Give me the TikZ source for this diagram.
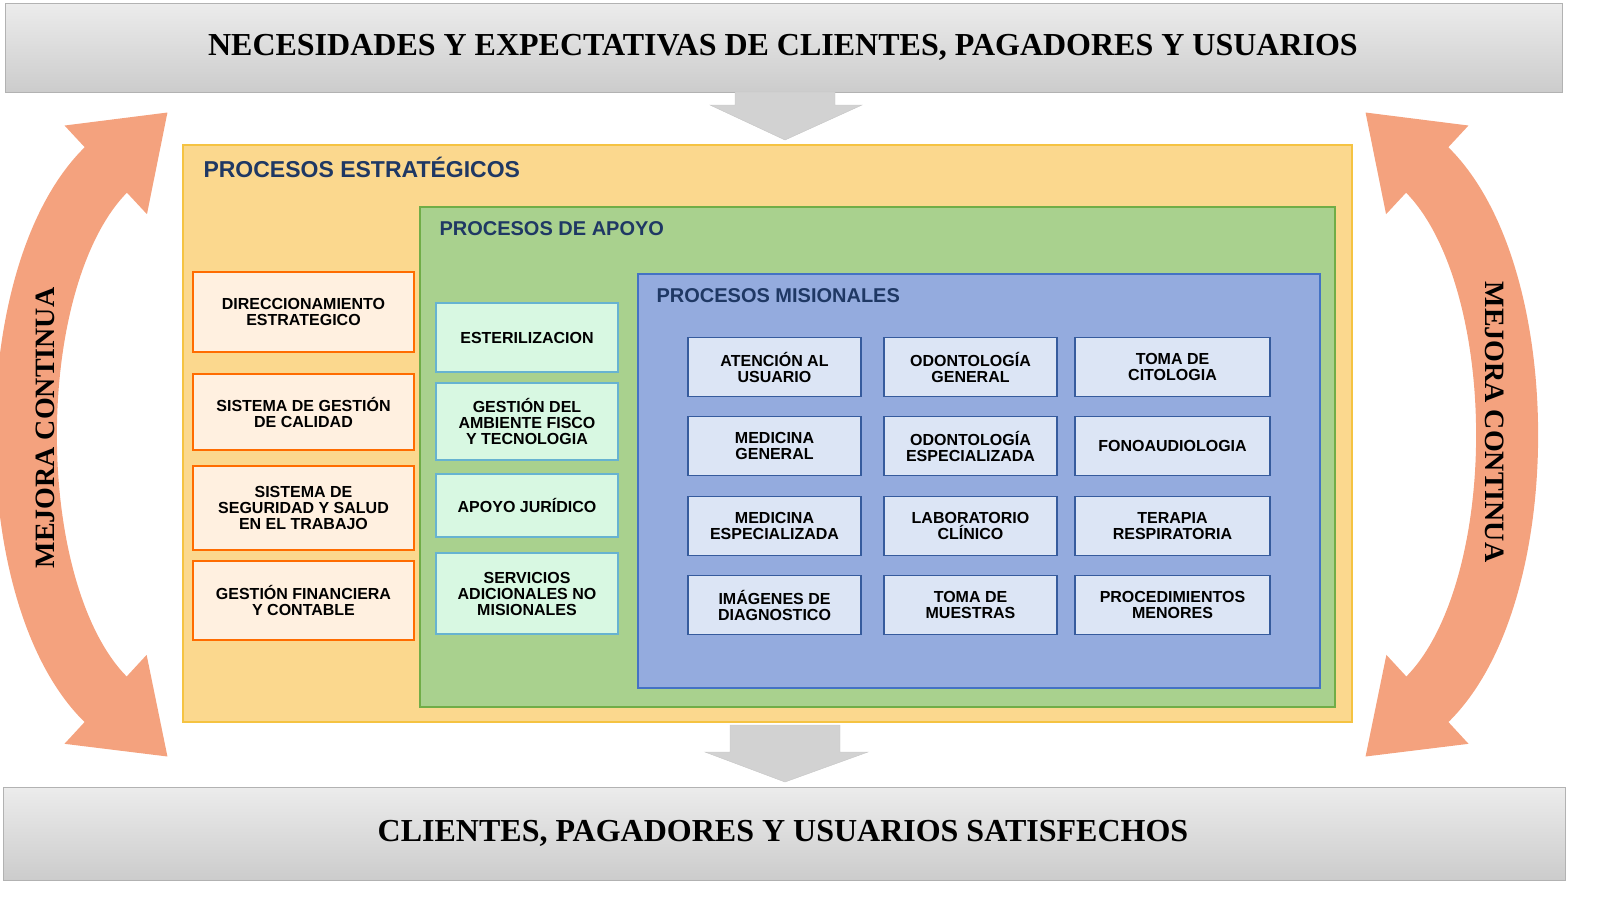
\documentclass[tikz,border=0pt]{standalone}
\usepackage{fontspec}
\setmainfont{Liberation Serif}
\setsansfont{Liberation Sans}
\usetikzlibrary{arrows.meta,positioning}
\definecolor{estrafill}{HTML}{FBD88E}
\definecolor{estradraw}{HTML}{F5C342}
\definecolor{apoyofill}{HTML}{A9D18E}
\definecolor{apoyodraw}{HTML}{70AD47}
\definecolor{misfill}{HTML}{94ABDE}
\definecolor{misdraw}{HTML}{4472C4}
\definecolor{titblue}{HTML}{1F3864}
\definecolor{mejora}{HTML}{F4A27E}
\definecolor{celfill}{HTML}{DCE5F5}
\definecolor{apfill}{HTML}{D8F8E2}
\tikzset{
  bar/.style={draw=gray!60,top color=gray!15,bottom color=gray!40},
  bartext/.style={font=\rmfamily\bfseries\fontsize{32}{34}\selectfont},
  areatit/.style={anchor=west,text=titblue,font=\sffamily\bfseries\fontsize{23}{25}\selectfont},
  cell/.style={draw=#1,line width=1.5pt,align=center,inner sep=0pt,
    font=\sffamily\bfseries\fontsize{16}{16}\selectfont},
  flecha/.style={fill=gray!35,draw=gray!45},
  ciclo/.style={draw=mejora,line width=62pt,
    {Triangle[width=115pt,length=85pt]}-{Triangle[width=115pt,length=85pt]}},
}
\begin{document}
\begin{tikzpicture}[x=1pt,y=-1pt]
\useasboundingbox (0,0) rectangle (1600,898);
% barras
\draw[bar] (5,3) rectangle (1562,92);
\node[bartext] (nec) at (783,47) {NECESIDADES Y EXPECTATIVAS DE CLIENTES, PAGADORES Y USUARIOS};
\draw[bar] (3,787) rectangle (1565,880);
\node[bartext] (sat) at (783,833) {CLIENTES, PAGADORES Y USUARIOS SATISFECHOS};
% flechas
\draw[flecha] (735,92) -- (835,92) -- (835,105) -- (862,105) -- (785,140) -- (710,105) -- (735,105) -- cycle;
\draw[flecha] (730,725) -- (840,725) -- (840,752) -- (868,752) -- (785,782) -- (705,752) -- (730,752) -- cycle;
% mejora continua
\draw[ciclo] (168,757) .. controls (-2,600) and (-2,270) .. (168,112);
\node[rotate=90,font=\rmfamily\bfseries\fontsize{28}{30}\selectfont] (mejI) at (45,428) {MEJORA CONTINUA};
\draw[ciclo] (1365,112) .. controls (1535,270) and (1535,600) .. (1365,757);
\node[rotate=-90,font=\rmfamily\bfseries\fontsize{28}{30}\selectfont] (mejD) at (1495,422) {MEJORA CONTINUA};
% areas
\draw[fill=estrafill,draw=estradraw,line width=1.5pt] (183,145) rectangle (1352,722);
\node[areatit] (estra) at (200,167) {PROCESOS ESTRATÉGICOS};
\draw[fill=apoyofill,draw=apoyodraw,line width=1.5pt] (420,207) rectangle (1335,707);
\node[areatit,font=\sffamily\bfseries\fontsize{20}{22}\selectfont] (apoyo) at (436,229) {PROCESOS DE APOYO};
\draw[fill=misfill,draw=misdraw,line width=1.5pt] (638,274) rectangle (1320,688);
\node[areatit,font=\sffamily\bfseries\fontsize{20}{22}\selectfont] (mis) at (653,296) {PROCESOS MISIONALES};
% estrategicos
\foreach \ya/\yb/\txt [count=\i] in {272/352/{DIRECCIONAMIENTO\\ESTRATEGICO},
    374/450/{SISTEMA DE GESTIÓN\\DE CALIDAD},
    466/550/{SISTEMA DE\\SEGURIDAD Y SALUD\\EN EL TRABAJO},
    561/640/{GESTIÓN FINANCIERA\\Y CONTABLE}}
  \node[cell=orange!85!red,fill=orange!12,minimum width=221pt,minimum height={\yb-\ya}]
    (e\i) at (303.5,{(\ya+\yb)/2}) {\txt};
% apoyo
\foreach \ya/\yb/\txt [count=\i] in {303/372/{ESTERILIZACION},
    383/460/{GESTIÓN DEL\\AMBIENTE FISCO\\Y TECNOLOGIA},
    474/537/{APOYO JURÍDICO},
    553/634/{SERVICIOS\\ADICIONALES NO\\MISIONALES}}
  \node[cell=cyan!50!teal!70,fill=apfill,minimum width=182pt,minimum height={\yb-\ya}]
    (a\i) at (527,{(\ya+\yb)/2}) {\txt};
% misionales
\foreach \y/\ta/\tb/\tc [count=\r] in {
    367/{ATENCIÓN AL\\USUARIO}/{ODONTOLOGÍA\\GENERAL}/{TOMA DE\\CITOLOGIA},
    446/{MEDICINA\\GENERAL}/{ODONTOLOGÍA\\ESPECIALIZADA}/{FONOAUDIOLOGIA},
    526/{MEDICINA\\ESPECIALIZADA}/{LABORATORIO\\CLÍNICO}/{TERAPIA\\RESPIRATORIA},
    605/{IMÁGENES DE\\DIAGNOSTICO}/{TOMA DE\\MUESTRAS}/{PROCEDIMIENTOS\\MENORES}} {
  \node[cell=misdraw!80!black,fill=celfill,minimum width=173pt,minimum height=59pt] (m\r a) at (774.5,\y) {\ta};
  \node[cell=misdraw!80!black,fill=celfill,minimum width=173pt,minimum height=59pt] (m\r b) at (970.5,\y) {\tb};
  \node[cell=misdraw!80!black,fill=celfill,minimum width=195pt,minimum height=59pt] (m\r c) at (1172.5,\y) {\tc};
}
\end{tikzpicture}
\end{document}
